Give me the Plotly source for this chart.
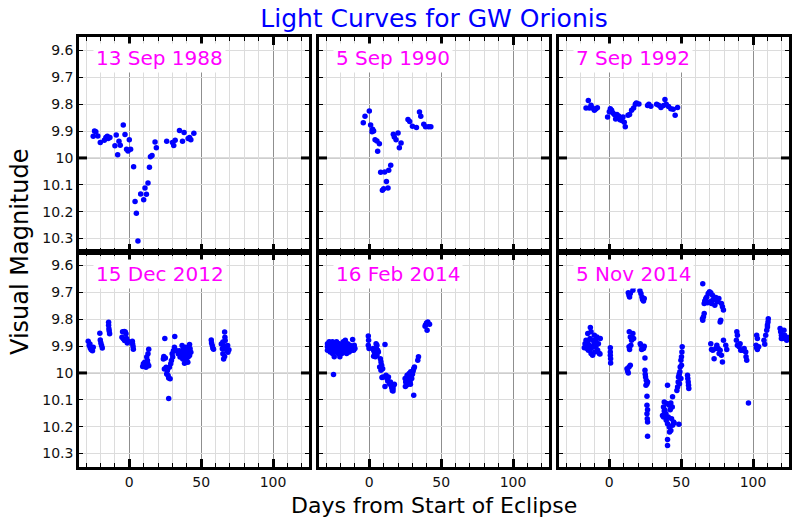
import plotly.graph_objects as go

# ---------------- data (days from start of eclipse, visual magnitude) ----------------
panel_titles = ["13 Sep 1988", "5 Sep 1990", "7 Sep 1992",
                "15 Dec 2012", "16 Feb 2014", "5 Nov 2014"]

days_1988 = [-25.1, -24.2, -23.3, -21.9, -20.2, -17.4, -16.3, -15.3, -14.7, -13.5,
             -10.0, -9.1, -8.1, -7.2, -6.3, -4.2, -3.0, -1.9, -0.9, 0.0,
             0.9, 3.0, 4.0, 4.9, 6.0, 7.9, 10.0, 10.9, 11.9, 13.0,
             14.0, 14.7, 15.8, 17.9, 18.8, 26.0, 30.0, 30.9, 31.9, 34.9,
             37.0, 38.1, 40.9, 41.9, 42.8, 44.9]
mag_1988 = [9.919, 9.900, 9.903, 9.918, 9.943, 9.934, 9.924, 9.919, 9.928, 9.924,
            9.955, 9.915, 9.988, 9.938, 9.953, 9.877, 9.913, 9.968, 9.974, 9.932,
            9.968, 10.033, 10.162, 10.206, 10.309, 10.134, 10.156, 10.112, 10.135, 10.093,
            10.035, 9.996, 9.991, 9.941, 9.962, 9.938, 9.943, 9.954, 9.934, 9.898,
            9.938, 9.905, 9.928, 9.924, 9.932, 9.908]

days_1990 = [-4.2, -3.0, 0.0, 0.9, 2.3, 3.0, 1.9, 4.0, 5.3, 7.0,
             5.8, 7.9, 10.7, 13.5, 14.9, 11.9, 9.1, 10.0, 13.0, 16.7,
             17.4, 18.6, 20.0, 20.9, 22.1, 26.9, 28.1, 30.0, 32.8, 34.9,
             35.8, 37.9, 39.1, 41.2, 42.8]
mag_1990 = [9.869, 9.845, 9.825, 9.877, 9.893, 9.900, 9.903, 9.932, 9.937, 9.947,
            9.975, 10.053, 10.052, 10.046, 10.027, 10.088, 10.120, 10.115, 10.112, 9.912,
            9.922, 9.932, 9.907, 9.962, 9.944, 9.857, 9.864, 9.882, 9.887, 9.829,
            9.845, 9.875, 9.884, 9.884, 9.884]

days_1992 = [-16.2, -14.6, -13.9, -12.7, -11.8, -10.4, -9.5, -8.3,
             -1.2, 0.0, 0.7, 1.6, 2.5, 3.5, 4.4, 5.3,
             6.5, 7.4, 8.3, 8.8, 9.5, 10.4, 11.1,
             13.0, 14.1, 15.5, 16.9, 18.1, 18.8, 20.6,
             26.6, 27.5, 28.9,
             32.9, 34.3, 35.9, 37.7, 38.7, 39.6, 41.2, 42.8, 44.4, 45.8, 47.5]
mag_1992 = [9.814, 9.786, 9.814, 9.804, 9.814, 9.823, 9.818, 9.813,
            9.848, 9.828, 9.817, 9.823, 9.833, 9.838, 9.855, 9.838,
            9.844, 9.858, 9.850, 9.861, 9.848, 9.867, 9.884,
            9.841, 9.838, 9.823, 9.814, 9.800, 9.796, 9.799,
            9.805, 9.800, 9.808,
            9.800, 9.804, 9.812, 9.805, 9.783, 9.800, 9.809, 9.817, 9.819, 9.841, 9.812]

days_2012 = [-28.6, -27.9, -27.2, -26.5, -25.6, -25.1, -27.4, -26.0,
             -20.5, -20.2, -19.8, -19.3, -18.8,
             -14.4, -14.4, -14.2, -14.0, -13.7,
             -4.7, -3.5, -2.8, -2.3, -5.1, -4.2, -3.3, -1.9, -0.9, -1.4,
             2.1, 2.3, 2.6, 2.8,
             13.5, 13.0, 12.1, 12.6, 10.7, 9.8, 11.2, 13.5, 9.3, 11.6, 12.8,
             24.7, 24.0, 25.1, 23.7, 24.4, 25.6, 26.5, 26.0, 27.0, 27.4,
             28.4, 27.4, 31.6, 31.4, 30.7, 29.8, 30.2, 29.3, 28.8, 27.9,
             34.9, 36.0, 37.2, 38.4, 39.5, 40.7, 38.4, 37.2, 36.0, 40.7,
             41.4, 41.9, 42.3, 42.8, 40.0, 39.1, 37.7, 34.0, 33.0, 36.7,
             40.9, 41.9, 39.5, 38.4, 35.3,
             57.0, 57.2, 57.7, 58.1, 58.6,
             66.3, 66.5, 66.7, 65.1, 65.6, 64.0, 67.4, 67.9, 68.6, 65.1,
             66.3, 65.6, 69.3, 67.0, 64.7, 68.4]
mag_2012 = [9.882, 9.898, 9.907, 9.914, 9.917, 9.904, 9.892, 9.910,
            9.852, 9.877, 9.889, 9.898, 9.907,
            9.811, 9.823, 9.836, 9.844, 9.854,
            9.847, 9.846, 9.848, 9.854, 9.867, 9.873, 9.879, 9.872, 9.882, 9.889,
            9.882, 9.892, 9.902, 9.912,
            9.912, 9.929, 9.941, 9.954, 9.960, 9.966, 9.973, 9.973, 9.976, 9.979, 9.966,
            9.872, 9.939, 9.944, 9.948, 9.985, 9.979, 9.991, 10.004, 10.010, 10.019,
            10.022, 10.095, 9.864, 9.904, 9.917, 9.929, 9.941, 9.954, 9.966, 9.979,
            9.917, 9.923, 9.929, 9.941, 9.954, 9.960, 9.964, 9.948, 9.935, 9.917,
            9.904, 9.894, 9.910, 9.923, 9.929, 9.904, 9.910, 9.929, 9.917, 9.898,
            9.941, 9.935, 9.948, 9.923, 9.941,
            9.877, 9.889, 9.898, 9.907, 9.912,
            9.848, 9.867, 9.879, 9.885, 9.898, 9.892, 9.904, 9.917, 9.923, 9.929,
            9.939, 9.948, 9.914, 9.910, 9.910, 9.898]

days_2014a = [-29.1, -29.1, -29.1, -28.6, -27.9, -27.9, -27.2, -26.7, -26.7, -26.3,
              -25.6, -25.6, -25.1, -24.9, -24.4, -24.0, -23.7, -23.3, -22.8, -22.6,
              -22.1, -21.6, -21.4, -20.9, -20.5, -20.2, -19.8, -19.3, -19.1, -18.6,
              -18.1, -17.9, -17.4, -17.0, -16.7, -16.3, -15.8, -15.6, -15.1, -14.7,
              -14.2, -14.0, -13.5, -12.8, -12.3, -11.6, -11.6, -10.9, -10.5, -10.0,
              -24.9,
              -0.7, -0.5, -0.7, -0.2,
              2.6, 3.0, 3.5, 4.0, 4.7, 5.3, 4.9, 5.8, 4.2, 5.3, 3.0, 6.3,
              10.9,
              7.7, 8.1, 8.6, 7.2, 9.3, 8.1, 9.5, 8.8, 10.9, 11.6, 12.3,
              12.8, 14.0, 13.3, 14.7, 15.1, 15.6, 16.0, 16.5, 17.0, 17.4, 16.5,
              24.9, 25.3, 25.8, 26.3, 26.7, 27.2, 27.7, 27.9, 28.4, 28.8,
              29.1, 29.5, 30.0, 30.5, 30.9, 31.4, 25.1, 26.5, 28.1, 30.9,
              33.7, 34.2, 28.6,
              39.1, 39.8, 40.7, 41.9, 40.2, 38.8]
mag_2014a = [9.891, 9.903, 9.916, 9.897, 9.884, 9.909, 9.922, 9.891, 9.903, 9.916,
             9.884, 9.928, 9.897, 9.909, 9.940, 9.891, 9.922, 9.903, 9.884, 9.916,
             9.897, 9.928, 9.909, 9.891, 9.940, 9.903, 9.916, 9.897, 9.928, 9.909,
             9.884, 9.922, 9.903, 9.916, 9.878, 9.897, 9.928, 9.909, 9.891, 9.916,
             9.903, 9.922, 9.897, 9.909, 9.916, 9.876, 9.903, 9.916, 9.897, 9.909,
             10.006,
             9.863, 9.878, 9.897, 9.909,
             9.909, 9.916, 9.922, 9.928, 9.891, 9.897, 9.909, 9.916, 9.940, 9.934, 9.938, 9.922,
             9.894,
             9.947, 9.959, 9.971, 9.978, 9.984, 9.990, 10.015, 10.017, 10.050, 10.009, 10.021,
             10.030, 10.040, 10.015, 10.034, 10.046, 10.055, 10.065, 10.058, 10.046, 10.042, 10.067,
             10.021, 10.034, 10.046, 10.009, 10.027, 10.040, 10.002, 10.015, 10.034, 9.996,
             10.012, 10.021, 10.005, 9.993, 9.984, 9.978, 10.050, 10.043, 10.025, 10.083,
             9.953, 9.940, 10.042,
             9.822, 9.814, 9.810, 9.819, 9.841, 9.826]

days_2014b = [-13.2, -15.0, -12.7, -10.4, -8.6, -16.9, -16.2, -15.0, -13.9, -12.7,
              -11.6, -10.4, -9.3, -8.1, -6.9, -14.6, -15.5, -12.7, -11.6, -10.0,
              -6.3, -7.6, -13.4, -17.4, -9.3, -6.5, -16.2, -10.9,
              0.7, 0.7, 0.7, 0.9, 0.9,
              13.2, 13.7, 14.1, 14.6, 16.2, 16.9, 16.4,
              13.9, 14.6, 15.5, 16.4, 13.7, 14.1, 15.0, 16.9,
              12.3, 12.7, 13.2, 13.7, 14.6,
              21.3, 22.0, 22.7, 23.1, 23.8, 24.3,
              21.5, 22.0, 23.1, 23.8, 24.3, 22.5, 24.8,
              24.8, 25.0, 25.2, 25.7, 26.2, 26.6, 25.5,
              26.2, 26.2, 26.6, 26.2, 26.4, 26.6, 26.6,
              40.5, 38.2, 37.7, 38.7, 39.4, 37.0, 40.0, 41.7, 42.8, 44.0,
              42.4, 41.0, 39.6, 40.5, 41.7, 42.8, 44.0, 44.7, 43.3, 41.9,
              40.5, 40.5, 45.1, 38.2, 37.7, 43.8, 48.4,
              47.0, 47.5, 47.9, 48.1, 48.6, 49.1, 49.3, 49.8, 50.2, 50.5,
              50.7, 49.8, 48.8, 50.2,
              54.4, 54.6, 54.9, 55.1, 55.3,
              65.0, 64.8, 65.0, 65.5, 66.0, 66.4, 67.1, 67.8, 68.8, 69.7,
              70.6, 71.8, 72.9, 70.1, 71.1, 72.0, 74.1, 75.2, 76.2, 78.0,
              78.7, 79.4, 77.5, 77.1, 66.0, 68.3, 73.4,
              70.6, 71.1, 72.0, 72.9, 74.8, 75.7, 76.4, 77.1, 78.0, 78.7,
              79.4, 81.0, 81.7, 74.1,
              88.7, 89.1, 88.4, 89.1, 90.3, 91.4, 91.0, 92.6, 93.8, 94.9,
              95.1, 95.6,
              96.8,
              102.5, 103.0, 102.1, 102.5, 103.0, 103.9,
              107.6, 108.1, 108.8, 109.5, 110.0, 110.4, 110.6, 110.0,
              118.8, 119.2, 119.7, 120.4, 121.5, 122.0, 122.7, 123.4, 124.3, 119.7]
mag_2014b = [9.831, 9.853, 9.847, 9.860, 9.866, 9.891, 9.903, 9.884, 9.897, 9.909,
             9.878, 9.891, 9.903, 9.916, 9.928, 9.916, 9.909, 9.928, 9.934, 9.922,
             9.872, 9.891, 9.872, 9.906, 9.878, 9.930, 9.878, 9.903,
             9.906, 9.922, 9.934, 9.947, 9.963,
             9.702, 9.711, 9.717, 9.704, 9.667, 9.679, 9.692,
             9.847, 9.866, 9.878, 9.853, 9.903, 9.913, 9.897, 9.872,
             9.984, 9.993, 10.000, 9.978, 9.971,
             9.694, 9.704, 9.717, 9.727, 9.732, 9.723,
             9.891, 9.897, 9.903, 9.909, 9.901, 9.913, 9.944,
             9.990, 10.005, 10.015, 10.027, 10.040, 10.034, 10.046,
             10.087, 10.120, 10.137, 10.152, 10.170, 10.183, 10.236,
             10.046, 10.108, 10.127, 10.139, 10.152, 10.158, 10.114, 10.120, 10.112, 10.089,
             10.137, 10.164, 10.176, 10.189, 10.201, 10.214, 10.195, 10.183, 10.170, 10.220,
             10.248, 10.270, 10.186, 10.142, 10.164, 10.127, 10.191,
             10.065, 10.052, 10.034, 10.015, 10.005, 9.996, 9.978, 9.953, 9.940, 9.922,
             9.903, 10.021, 10.040, 9.971,
             10.009, 10.021, 10.034, 10.046, 10.058,
             9.668, 9.798, 9.804, 9.791, 9.742, 9.732, 9.723, 9.717, 9.704, 9.698,
             9.702, 9.711, 9.727, 9.735, 9.742, 9.729, 9.719, 9.735, 9.723, 9.742,
             9.754, 9.766, 9.804, 9.810, 9.779, 9.739, 9.748,
             9.891, 9.913, 9.916, 9.947, 9.897, 9.909, 9.928, 9.916, 9.934, 9.959,
             9.878, 9.897, 9.913, 9.909,
             9.847, 9.860, 9.878, 9.897, 9.903, 9.916, 9.891, 9.916, 9.909, 9.922,
             9.940, 9.953,
             10.112,
             9.860, 9.872, 9.897, 9.906, 9.913, 9.903,
             9.878, 9.893, 9.860, 9.841, 9.829, 9.810, 9.798, 9.822,
             9.835, 9.847, 9.860, 9.872, 9.841, 9.860, 9.872, 9.878, 9.868, 9.872]

series = [(days_1988, mag_1988), (days_1990, mag_1990), (days_1992, mag_1992),
          (days_2012, mag_2012), (days_2014a, mag_2014a), (days_2014b, mag_2014b)]

x_range = [-35, 125]
y_range = [10.35, 9.55]

# ---------------- layout ----------------
W, H = 800, 520
col_px = [(79, 309), (319, 549), (559, 789)]
row_px = [(37, 252), (252, 467)]
FONT = "DejaVu Sans"
major_grid = "#8f8f8f"
minor_grid = "#dcdcdc"

fig = go.Figure()
layout = dict(width=W, height=H, autosize=False,
              margin=dict(l=0, r=0, t=0, b=0),
              paper_bgcolor="white", plot_bgcolor="white",
              font=dict(family=FONT, color="black"),
              showlegend=False)
shapes = []
annotations = []

for i, (d, m) in enumerate(series):
    r, c = divmod(i, 3)
    n = "" if i == 0 else str(i + 1)
    xa, ya = "x" + n, "y" + n
    fig.add_trace(go.Scatter(x=d, y=m, mode="markers", xaxis=xa, yaxis=ya,
                             marker=dict(color="#0000ff", size=5.5, line=dict(width=0)),
                             hoverinfo="x+y"))
    x0, x1 = col_px[c]
    y0, y1 = row_px[r]
    layout["xaxis" + n] = dict(
        domain=[x0 / W, x1 / W], anchor=ya, range=x_range,
        tickmode="linear", tick0=0, dtick=50,
        showticklabels=(r == 1), ticks="inside", ticklen=8, tickwidth=3, tickcolor="black",
        showgrid=True, gridcolor=major_grid, gridwidth=1,
        minor=dict(tick0=0, dtick=10, ticks="inside", ticklen=4, tickwidth=1,
                   tickcolor="black", showgrid=True, gridcolor=minor_grid, gridwidth=1),
        showline=True, linewidth=2.5, linecolor="black", mirror="ticks",
        zeroline=False, tickfont=dict(size=14, color="#111111", family=FONT),
        fixedrange=True)
    layout["yaxis" + n] = dict(
        domain=[1 - y1 / H, 1 - y0 / H], anchor=xa, range=y_range,
        tickmode="linear", tick0=9.6, dtick=0.1,
        showticklabels=(c == 0), ticks="inside", ticklen=4, tickwidth=1, tickcolor="black",
        showgrid=True, gridcolor=minor_grid, gridwidth=1,
        showline=True, linewidth=2.5, linecolor="black", mirror="ticks",
        zeroline=False, tickfont=dict(size=14, color="#111111", family=FONT),
        fixedrange=True)
    # darker reference line at magnitude 10 with thick ticks
    shapes.append(dict(type="line", xref=xa + " domain", yref=ya, x0=0, x1=1, y0=10, y1=10,
                       line=dict(color=major_grid, width=1), layer="below"))
    tl = 8 / (x1 - x0)
    for a, b in ((0, tl), (1 - tl, 1)):
        shapes.append(dict(type="line", xref=xa + " domain", yref=ya, x0=a, x1=b, y0=10, y1=10,
                           line=dict(color="black", width=3), layer="above"))
    annotations.append(dict(text=panel_titles[i], xref=xa + " domain", yref=ya + " domain",
                            x=0.062, y=0.9, xanchor="left", yanchor="middle", showarrow=False,
                            bgcolor="white", borderpad=2,
                            font=dict(size=20, color="#ff00ff", family=FONT)))

annotations.append(dict(text="Days from Start of Eclipse", xref="paper", yref="paper",
                        x=434 / W, y=1 - 505 / H, xanchor="center", yanchor="middle",
                        showarrow=False, font=dict(size=22, color="black", family=FONT)))
annotations.append(dict(text="Visual Magnitude", xref="paper", yref="paper",
                        x=20 / W, y=1 - 252 / H, xanchor="center", yanchor="middle",
                        textangle=-90, showarrow=False,
                        font=dict(size=24, color="black", family=FONT)))

layout["title"] = dict(text="Light Curves for GW Orionis", x=434 / W, y=1 - 18 / H,
                       xanchor="center", yanchor="middle",
                       font=dict(size=25, color="#0000ff", family=FONT))
layout["shapes"] = shapes
layout["annotations"] = annotations
fig.update_layout(**layout)

fig.write_html("out.html", config={"displayModeBar": False},
               post_script="document.body.style.margin='0';document.body.style.overflow='hidden';")
